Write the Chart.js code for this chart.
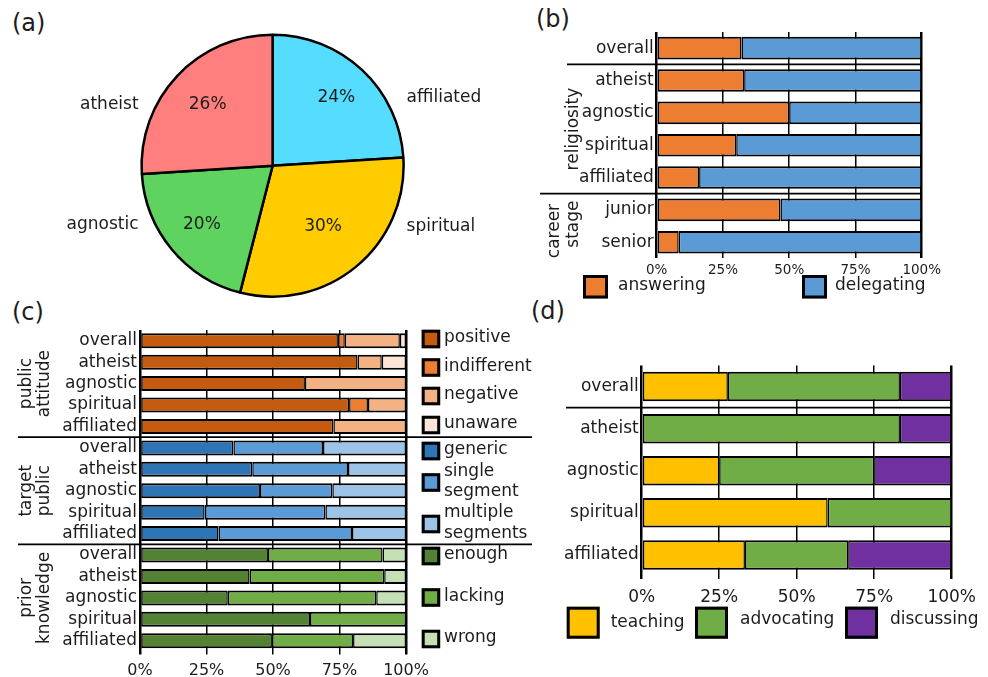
<!DOCTYPE html>
<html lang="en">
<head>
<meta charset="utf-8">
<title>Religiosity, communication roles and public engagement</title>
<script src="https://cdn.jsdelivr.net/npm/chart.js@4.4.1/dist/chart.umd.min.js"></script>
<style>
  html, body { margin: 0; padding: 0; background: #ffffff; }
  body { position: relative; width: 988px; height: 677px; overflow: hidden;
         font-family: "DejaVu Sans", sans-serif; color: #1c1c1c; }
  canvas { position: absolute; }
  .tag { position: absolute; font-size: 24px; line-height: 24px; white-space: nowrap; }
</style>
</head>
<body>
<div class="tag" style="left:12px;top:11px">(a)</div>
<div class="tag" style="left:536px;top:7px">(b)</div>
<div class="tag" style="left:12px;top:300px">(c)</div>
<div class="tag" style="left:531px;top:299px">(d)</div>
<canvas id="pie" width="540" height="300" style="left:0;top:0"></canvas>
<canvas id="roles" width="448" height="310" style="left:540px;top:0"></canvas>
<canvas id="views" width="540" height="377" style="left:0;top:300px"></canvas>
<canvas id="modes" width="448" height="377" style="left:540px;top:300px"></canvas>
<script>
// ---------- data ----------
// (a) share of respondents per religiosity group, clockwise from 12 o'clock
const religiosity = ['affiliated', 'spiritual', 'agnostic', 'atheist'];
const religiosityShare = [24, 30, 20, 26];

// (b) answering vs delegating questions
const roleRows = ['overall', 'atheist', 'agnostic', 'spiritual', 'affiliated', 'junior', 'senior'];
const answering = [32, 33, 50, 30, 16, 46.7, 8.3];
const delegating = [68, 67, 50, 70, 84, 53.3, 91.7];

// (c) rows repeated for each of the three blocks
const groupRows = ['overall', 'atheist', 'agnostic', 'spiritual', 'affiliated'];
const attitudePositive = [74.4, 81.8, 62.0, 78.6, 72.7];
const attitudeIndifferent = [2.6, 0, 0, 7.1, 0];
const attitudeNegative = [20.7, 9.1, 38.0, 14.3, 27.3];
const attitudeUnaware = [2.3, 9.1, 0, 0, 0];
const publicGeneric = [35.1, 42.2, 45.1, 24.3, 29.5];
const publicSingle = [33.7, 36.0, 27.2, 45.4, 50.2];
const publicMultiple = [31.2, 21.8, 27.7, 30.3, 20.3];
const knowledgeEnough = [48.1, 41.2, 33.0, 63.9, 49.6];
const knowledgeLacking = [43.1, 50.6, 55.8, 36.1, 30.5];
const knowledgeWrong = [8.8, 8.2, 11.2, 0, 19.9];

// (d) preferred mode of engagement
const modeRows = ['overall', 'atheist', 'agnostic', 'spiritual', 'affiliated'];
const teaching = [27.8, 0, 25, 60, 33.3];
const advocating = [55.5, 83.3, 50, 40, 33.3];
const discussing = [16.7, 16.7, 25, 0, 33.4];

const percentTicks = [0, 25, 50, 75, 100];

// ---------- shared styling ----------
const FONT = '"DejaVu Sans", sans-serif';
const INK = '#1c1c1c';
Chart.defaults.font.family = FONT;
Chart.defaults.color = INK;

function hline(ctx, x0, x1, y) {
  ctx.strokeStyle = '#000'; ctx.lineWidth = 1.8;
  ctx.beginPath(); ctx.moveTo(x0, y); ctx.lineTo(x1, y); ctx.stroke();
}
function vtext(ctx, text, x, y) {
  ctx.save();
  ctx.translate(x, y); ctx.rotate(-Math.PI / 2);
  ctx.font = '17px ' + FONT; ctx.fillStyle = INK;
  ctx.textAlign = 'center'; ctx.textBaseline = 'middle';
  ctx.fillText(text, 0, 0);
  ctx.restore();
}
function key(ctx, x, y, w, h, fill) {
  ctx.fillStyle = fill; ctx.fillRect(x, y, w, h);
  ctx.strokeStyle = '#000'; ctx.lineWidth = 3;
  ctx.strokeRect(x + 1.5, y + 1.5, w - 3, h - 3);
}
function say(ctx, text, x, y) {
  ctx.font = '17px ' + FONT; ctx.fillStyle = INK;
  ctx.textAlign = 'left'; ctx.textBaseline = 'middle';
  ctx.fillText(text, x, y);
}

function segment(label, data, color) {
  return {
    label, data, backgroundColor: color,
    borderColor: '#000', borderWidth: { top: 2, bottom: 2, left: 1.5, right: 1.5 },
    borderSkipped: false, inflateAmount: 0,
    barPercentage: 0.7, categoryPercentage: 1
  };
}

function percentScales(o) {
  return {
    x: {
      type: 'linear', stacked: true, min: 0, max: 100,
      afterBuildTicks: s => { s.ticks = percentTicks.map(v => ({ value: v })); },
      afterFit: s => { s.height = o.xHeight; },
      grid: {
        color: '#000',
        lineWidth: c => (c.tick && (c.tick.value === 0 || c.tick.value === 100)) ? 2.5 : 1.5,
        drawTicks: o.tickLength > 0, tickLength: o.tickLength
      },
      border: { display: false },
      ticks: { font: { size: o.tickSize }, padding: o.tickPad, maxRotation: 0, autoSkip: false,
               callback: v => v + '%' }
    },
    y: {
      type: 'category', stacked: true,
      afterFit: s => { s.width = o.yWidth; },
      grid: { display: false, drawTicks: false },
      border: { display: false },
      ticks: { font: { size: 17 }, padding: 3, autoSkip: false }
    }
  };
}

function barOptions(padding, scaleOpts) {
  return {
    indexAxis: 'y', responsive: false, animation: false, events: [],
    layout: { padding },
    scales: percentScales(scaleOpts),
    plugins: { legend: { display: false }, tooltip: { enabled: false } }
  };
}

// ---------- (a) pie ----------
const pctRadius = [0.71, 0.605, 0.70, 0.68];
const pieLabels = {
  id: 'pieLabels',
  afterDatasetsDraw(chart) {
    const { ctx } = chart;
    const meta = chart.getDatasetMeta(0);
    ctx.save();
    ctx.font = '17px ' + FONT; ctx.fillStyle = INK; ctx.textBaseline = 'middle';
    meta.data.forEach((arc, i) => {
      const { x, y, startAngle, endAngle, outerRadius } =
        arc.getProps(['x', 'y', 'startAngle', 'endAngle', 'outerRadius'], true);
      const mid = (startAngle + endAngle) / 2;
      const r = outerRadius * pctRadius[i];
      const px = x + Math.cos(mid) * r;
      const py = y + Math.sin(mid) * r;
      ctx.textAlign = 'center';
      ctx.fillText(chart.data.datasets[0].data[i] + '%', px, py);
      const onRight = Math.cos(mid) > 0;
      ctx.textAlign = onRight ? 'left' : 'right';
      ctx.fillText(chart.data.labels[i], onRight ? x + outerRadius + 3 : x - outerRadius - 3, py);
    });
    ctx.restore();
  }
};

new Chart(document.getElementById('pie'), {
  type: 'pie',
  data: {
    labels: religiosity,
    datasets: [{
      data: religiosityShare,
      backgroundColor: ['#55dcff', '#ffcc00', '#5fd35f', '#ff7f7f'],
      borderColor: '#000', borderWidth: 2.5, radius: 131
    }]
  },
  options: {
    responsive: false, animation: false, events: [],
    layout: { padding: { left: 5.2, top: 31.4, right: 0, bottom: 0 } },
    plugins: { legend: { display: false }, tooltip: { enabled: false } }
  },
  plugins: [pieLabels]
});

// ---------- (b) answering / delegating ----------
const rolesDecor = {
  id: 'rolesDecor',
  afterDatasetsDraw(chart) {
    const { ctx, chartArea: a } = chart;
    const y = chart.scales.y;
    const p = i => y.getPixelForValue(i);
    ctx.save();
    hline(ctx, 27, a.right, (p(0) + p(1)) / 2);
    hline(ctx, 0, a.right, (p(4) + p(5)) / 2);
    vtext(ctx, 'religiosity', 33.5, (p(1) + p(4)) / 2);
    vtext(ctx, 'career', 15, (p(5) + p(6)) / 2 + 5);
    vtext(ctx, 'stage', 33.5, (p(5) + p(6)) / 2 - 2);
    const ds = chart.data.datasets;
    key(ctx, 43, 275, 25, 23.5, ds[0].backgroundColor);
    say(ctx, ds[0].label, 78, 286);
    key(ctx, 262, 275, 25, 23.5, ds[1].backgroundColor);
    say(ctx, ds[1].label, 295, 286);
    ctx.restore();
  }
};

new Chart(document.getElementById('roles'), {
  type: 'bar',
  data: {
    labels: roleRows,
    datasets: [
      segment('answering', answering, '#ed7d31'),
      segment('delegating', delegating, '#5b9bd5')
    ]
  },
  options: barOptions({ left: 0, right: 66.3, top: 32, bottom: 0 },
    { yWidth: 116.7, xHeight: 51.6, tickSize: 13.5, tickPad: 3.5, tickLength: 0 }),
  plugins: [rolesDecor]
});

// ---------- (c) attitude, target public, prior knowledge ----------
function inBlock(values, block) {
  const out = new Array(groupRows.length * 3).fill(null);
  values.forEach((v, i) => { out[block * groupRows.length + i] = v; });
  return out;
}

const viewKeys = [
  { ds: 0, y: 39, lines: ['positive'] },
  { ds: 1, y: 67.5, lines: ['indifferent'] },
  { ds: 2, y: 96, lines: ['negative'] },
  { ds: 3, y: 125, lines: ['unaware'] },
  { ds: 4, y: 151, lines: ['generic'] },
  { ds: 5, y: 182.5, lines: ['single', 'segment'] },
  { ds: 6, y: 224, lines: ['multiple', 'segments'] },
  { ds: 7, y: 256, lines: ['enough'] },
  { ds: 8, y: 297.5, lines: ['lacking'] },
  { ds: 9, y: 339, lines: ['wrong'] }
];

const viewsDecor = {
  id: 'viewsDecor',
  afterDatasetsDraw(chart) {
    const { ctx } = chart;
    const y = chart.scales.y;
    const p = i => y.getPixelForValue(i);
    ctx.save();
    hline(ctx, 18, 532, (p(4) + p(5)) / 2);
    hline(ctx, 18, 532, (p(9) + p(10)) / 2);
    vtext(ctx, 'public', 26.7, p(2));
    vtext(ctx, 'attitude', 45, p(2));
    vtext(ctx, 'target', 26.7, p(7));
    vtext(ctx, 'public', 45, p(7));
    vtext(ctx, 'prior', 26.7, p(12));
    vtext(ctx, 'knowledge', 45, p(12));
    viewKeys.forEach(k => {
      key(ctx, 421.7, k.y - 9.25, 18.5, 18.5, chart.data.datasets[k.ds].backgroundColor);
      if (k.lines.length === 1) {
        say(ctx, k.lines[0], 444, k.y - 1);
      } else {
        say(ctx, k.lines[0], 444, k.y - 11);
        say(ctx, k.lines[1], 444, k.y + 9.5);
      }
    });
    ctx.restore();
  }
};

new Chart(document.getElementById('views'), {
  type: 'bar',
  data: {
    labels: [...groupRows, ...groupRows, ...groupRows],
    datasets: [
      segment('positive', inBlock(attitudePositive, 0), '#c55a11'),
      segment('indifferent', inBlock(attitudeIndifferent, 0), '#ed7d31'),
      segment('negative', inBlock(attitudeNegative, 0), '#f4b183'),
      segment('unaware', inBlock(attitudeUnaware, 0), '#fbe5d6'),
      segment('generic', inBlock(publicGeneric, 1), '#2e75b6'),
      segment('single segment', inBlock(publicSingle, 1), '#5b9bd5'),
      segment('multiple segments', inBlock(publicMultiple, 1), '#9dc3e6'),
      segment('enough', inBlock(knowledgeEnough, 2), '#548235'),
      segment('lacking', inBlock(knowledgeLacking, 2), '#70ad47'),
      segment('wrong', inBlock(knowledgeWrong, 2), '#c5e0b4')
    ]
  },
  options: barOptions({ left: 0, right: 134, top: 30, bottom: 0 },
    { yWidth: 140, xHeight: 25.5, tickSize: 16, tickPad: 7, tickLength: 3 }),
  plugins: [viewsDecor]
});

// ---------- (d) teaching / advocating / discussing ----------
const modesDecor = {
  id: 'modesDecor',
  afterDatasetsDraw(chart) {
    const { ctx, chartArea: a } = chart;
    const y = chart.scales.y;
    const p = i => y.getPixelForValue(i);
    ctx.save();
    hline(ctx, 26, a.right, (p(0) + p(1)) / 2);
    const ds = chart.data.datasets;
    key(ctx, 26.7, 306.7, 33, 32, ds[0].backgroundColor);
    say(ctx, ds[0].label, 70.7, 322.5);
    key(ctx, 155, 306.7, 33, 32, ds[1].backgroundColor);
    say(ctx, ds[1].label, 200, 320);
    key(ctx, 305, 306.7, 33, 32, ds[2].backgroundColor);
    say(ctx, ds[2].label, 350, 320);
    ctx.restore();
  }
};

new Chart(document.getElementById('modes'), {
  type: 'bar',
  data: {
    labels: modeRows,
    datasets: [
      segment('teaching', teaching, '#ffc000'),
      segment('advocating', advocating, '#70ad47'),
      segment('discussing', discussing, '#7030a0')
    ]
  },
  options: barOptions({ left: 0, right: 36.3, top: 65.5, bottom: 0 },
    { yWidth: 101.7, xHeight: 101, tickSize: 17, tickPad: 8.5, tickLength: 3 }),
  plugins: [modesDecor]
});
</script>
</body>
</html>
